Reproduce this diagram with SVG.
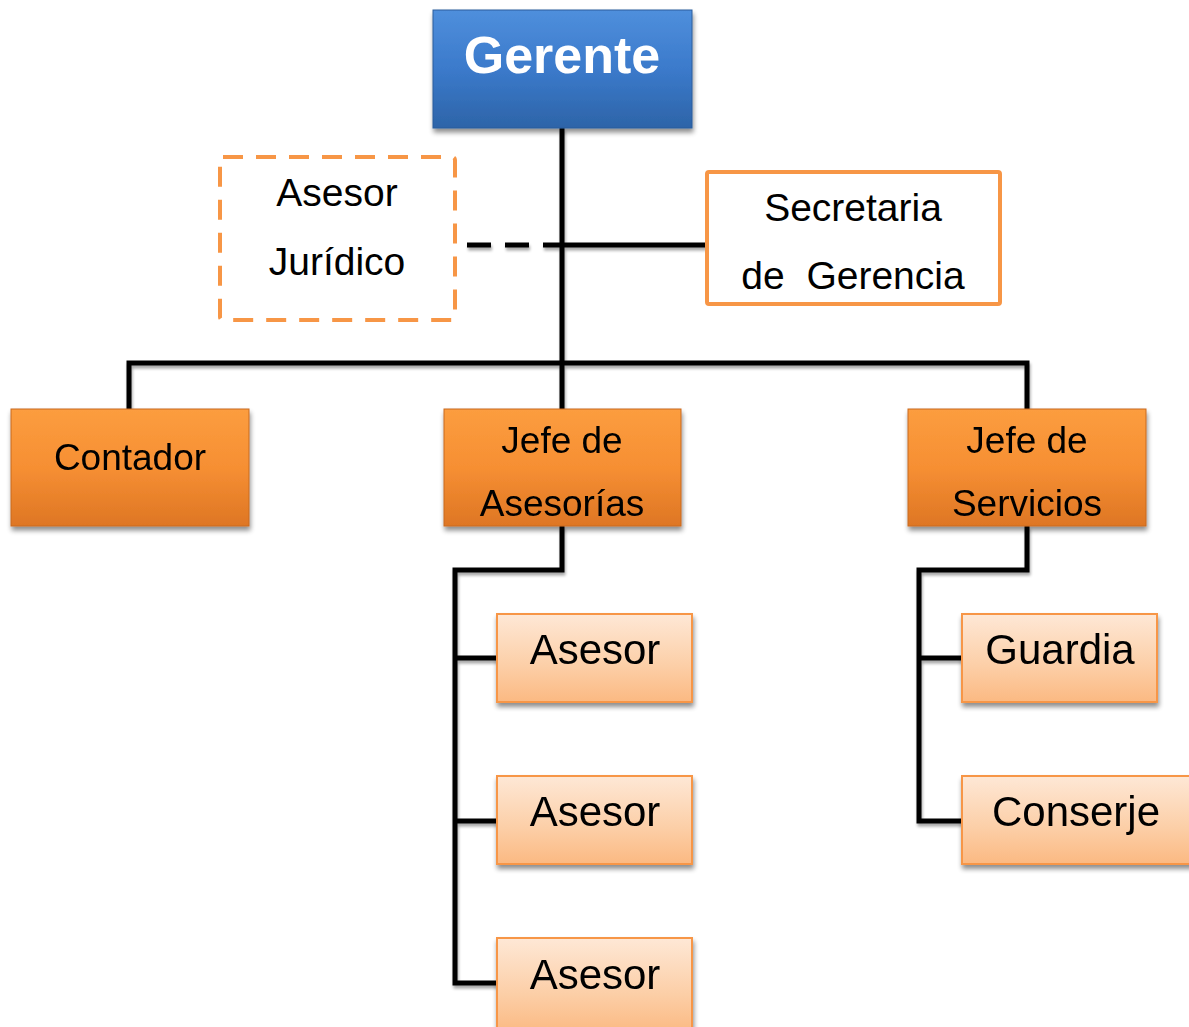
<svg xmlns="http://www.w3.org/2000/svg" width="1189" height="1027" viewBox="0 0 1189 1027">
<defs>
<linearGradient id="gBlue" x1="0" y1="0" x2="0" y2="1">
<stop offset="0" stop-color="#4f8fdc"/><stop offset="0.5" stop-color="#3b7acb"/><stop offset="1" stop-color="#2d64a8"/>
</linearGradient>
<linearGradient id="gOrange" x1="0" y1="0" x2="0" y2="1">
<stop offset="0" stop-color="#fc9d3f"/><stop offset="0.5" stop-color="#f68f33"/><stop offset="1" stop-color="#de7624"/>
</linearGradient>
<linearGradient id="gLight" x1="0" y1="0" x2="0" y2="1">
<stop offset="0" stop-color="#fee8d6"/><stop offset="0.6" stop-color="#fcceA6"/><stop offset="1" stop-color="#fbb982"/>
</linearGradient>
<filter id="sh" x="-10%" y="-10%" width="125%" height="130%">
<feGaussianBlur in="SourceAlpha" stdDeviation="2.5"/>
<feOffset dx="1" dy="4" result="o"/>
<feComponentTransfer><feFuncA type="linear" slope="0.45"/></feComponentTransfer>
<feMerge><feMergeNode/><feMergeNode in="SourceGraphic"/></feMerge>
</filter>
<filter id="lsh" x="-5%" y="-5%" width="110%" height="110%">
<feGaussianBlur in="SourceAlpha" stdDeviation="1.5"/>
<feOffset dx="1" dy="3"/>
<feComponentTransfer><feFuncA type="linear" slope="0.35"/></feComponentTransfer>
<feMerge><feMergeNode/><feMergeNode in="SourceGraphic"/></feMerge>
</filter>
</defs>
<style>
text{font-family:"Liberation Sans",Arial,sans-serif;fill:#000;text-anchor:middle}
.ln{stroke:#000;stroke-width:5;fill:none}
.dk{fill:url(#gOrange);stroke:#c86a1e;stroke-width:1}
.lt{fill:url(#gLight);stroke:#f79646;stroke-width:2}
.t37{font-size:37px}
.t39{font-size:39px}
.t42{font-size:42px}
</style>
<g id="connectors" filter="url(#lsh)">
<path class="ln" d="M562 128 V409"/>
<path class="ln" d="M562 245 H706"/>
<path class="ln" d="M467 245 H562" stroke-dasharray="24 14"/>
<path class="ln" d="M129 409 V363 H1027 V409"/>
<path class="ln" d="M562 526 V570 H455 V983 H497"/>
<path class="ln" d="M455 658 H497 M455 821 H497"/>
<path class="ln" d="M1027 526 V570 H919 V821 H962"/>
<path class="ln" d="M919 658 H962"/>
</g>
<g id="gerente" filter="url(#sh)">
<rect x="433" y="10" width="259" height="118" fill="url(#gBlue)" stroke="#2a5d9c" stroke-width="1"/>
<text x="562" y="73" style="font-size:52px;font-weight:bold;fill:#fff">Gerente</text>
</g>
<g id="asesor-juridico">
<rect x="220" y="157" width="235" height="163" rx="3" fill="#fff" stroke="#f79646" stroke-width="4" stroke-dasharray="20 13"/>
<text class="t39" x="337" y="206">Asesor</text>
<text class="t39" x="337" y="275">Jurídico</text>
</g>
<g id="secretaria">
<rect x="707" y="172" width="293" height="132" rx="2" fill="#fff" stroke="#f79646" stroke-width="4"/>
<text class="t39" x="853" y="221">Secretaria</text>
<text class="t39" x="853" y="289" xml:space="preserve">de  Gerencia</text>
</g>
<g id="contador" filter="url(#sh)">
<rect class="dk" x="11" y="409" width="238" height="117"/>
<text class="t37" x="130" y="470">Contador</text>
</g>
<g id="jefe-asesorias" filter="url(#sh)">
<rect class="dk" x="444" y="409" width="237" height="117"/>
<text class="t37" x="562" y="453">Jefe de</text>
<text class="t37" x="562" y="516">Asesorías</text>
</g>
<g id="jefe-servicios" filter="url(#sh)">
<rect class="dk" x="908" y="409" width="238" height="117"/>
<text class="t37" x="1027" y="453">Jefe de</text>
<text class="t37" x="1027" y="516">Servicios</text>
</g>
<g id="asesor-1" filter="url(#sh)">
<rect class="lt" x="497" y="614" width="195" height="88"/>
<text class="t42" x="595" y="664">Asesor</text>
</g>
<g id="asesor-2" filter="url(#sh)">
<rect class="lt" x="497" y="776" width="195" height="88"/>
<text class="t42" x="595" y="826">Asesor</text>
</g>
<g id="asesor-3" filter="url(#sh)">
<rect class="lt" x="497" y="938" width="195" height="95"/>
<text class="t42" x="595" y="989">Asesor</text>
</g>
<g id="guardia" filter="url(#sh)">
<rect class="lt" x="962" y="614" width="195" height="88"/>
<text class="t42" x="1060" y="664">Guardia</text>
</g>
<g id="conserje" filter="url(#sh)">
<rect class="lt" x="962" y="776" width="230" height="88"/>
<text class="t42" x="1076" y="826">Conserje</text>
</g>
</svg>
